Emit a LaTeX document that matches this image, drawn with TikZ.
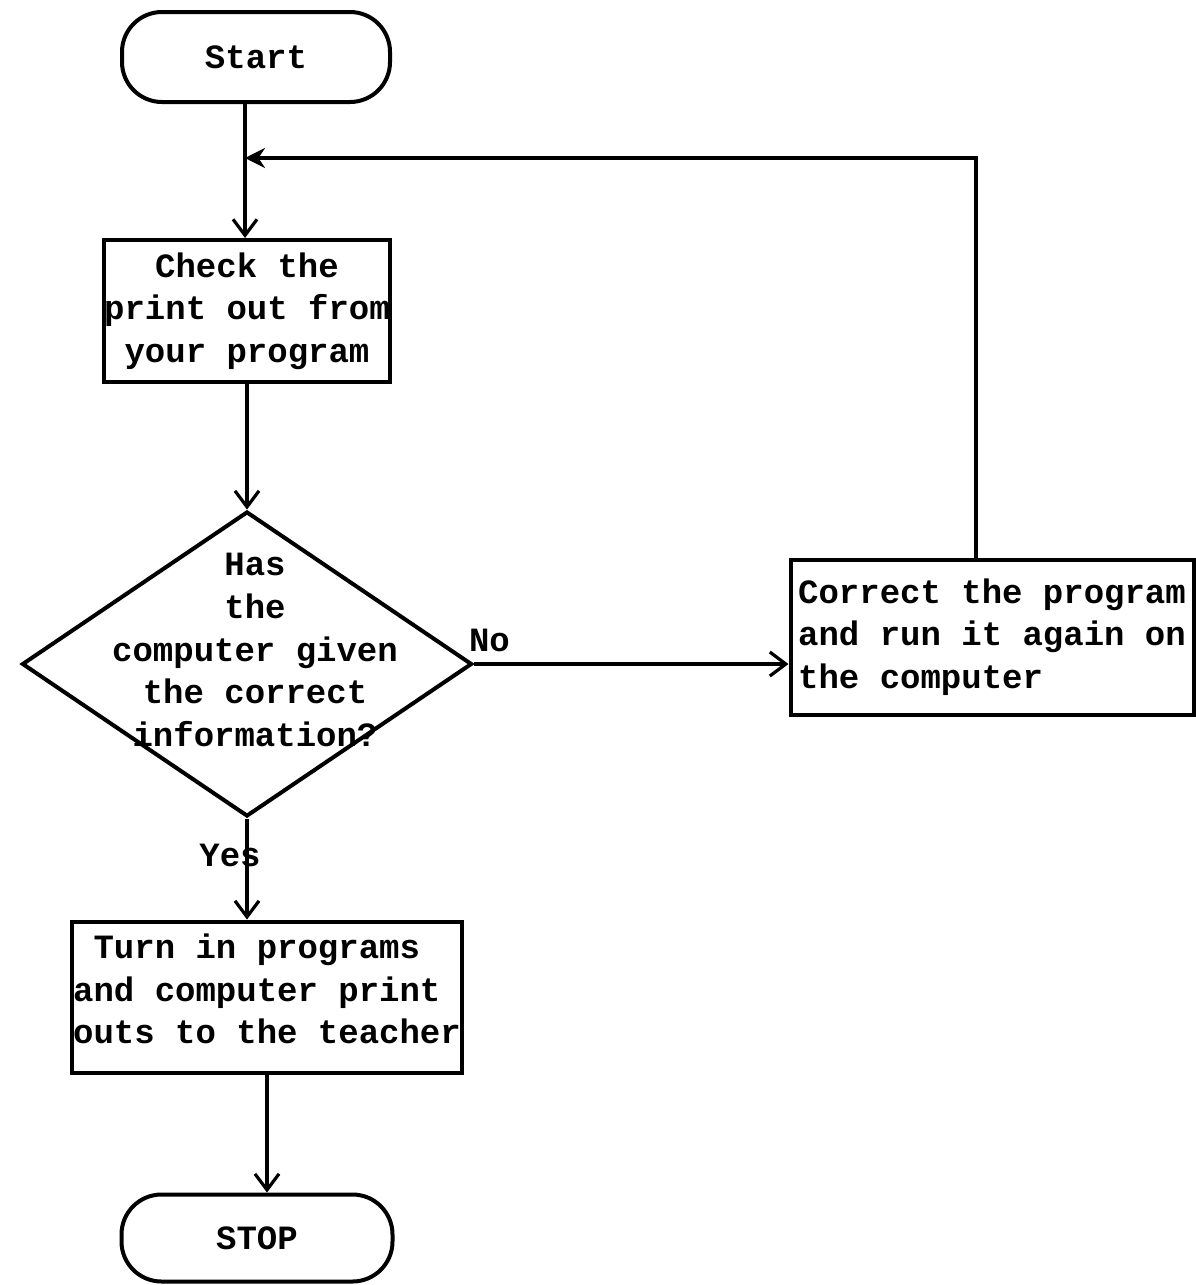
\documentclass[tikz,border=0pt]{standalone}
\usepackage{fontspec}
\setmonofont{Liberation Mono}
\usetikzlibrary{shapes.geometric,arrows.meta}
\begin{document}
\begin{tikzpicture}[x=0.5pt,y=-0.5pt,
  txt/.style={font=\ttfamily\bfseries\fontsize{17}{21.3}\selectfont},
  terminal/.style={draw,line width=2pt,rounded corners=20pt,minimum width=134pt,
    minimum height=45pt,inner sep=0pt,txt},
  process/.style={draw,line width=2pt,inner sep=0pt,txt},
  decision/.style={draw,diamond,line width=2pt,minimum width=225pt,
    minimum height=152.5pt,inner sep=0pt},
  flow/.style={line width=1.6pt,-{Straight Barb[length=8pt,width=12pt,line width=1.6pt]}},
  back/.style={line width=1.6pt,-{Stealth[length=10pt,width=10pt]}},
  tag/.style={txt}
]
\useasboundingbox (0,0) rectangle (1195,1285);

% boxes
\node[terminal] (start) at (256,57) {Start};
\node[process,minimum width=143pt,minimum height=71pt,align=center] (check)
  at (247,311) {Check the\\print out from\\your program};
\node[decision] (q) at (247,664) {};
\node[txt,align=center] (qt) at (255,650)
  {Has\\the\\computer given\\the correct\\information?};
\node[process,minimum width=201.5pt,minimum height=77.5pt,align=left]
  (fix) at (992,637) {Correct the program\\and run it again on\\the computer};
\node[process,minimum width=195pt,minimum height=75.5pt,align=left,text depth=8pt]
  (turn) at (267,997) {\phantom{x}Turn in programs\\and computer print\\outs to the teacher};
\node[terminal,minimum width=135.5pt,minimum height=43.5pt] (stop) at (257,1238) {STOP};

% junction points of the return loop
\coordinate (join) at (245,158);
\coordinate (corner) at (976,158);

% connectors
\draw[flow] (start.south -| join) -- (check.north -| join);
\draw[back] (fix.north -| corner) -- (corner) -- (join);
\draw[flow] (check.south) -- (q.north);
\draw[flow] (q.east) -- (q.east -| fix.west);
\node[tag,anchor=west] (no) at (462,640) {No};
\draw[flow] (q.south) -- (q.south |- turn.north);
\node[tag] (yes) at (230,855) {Yes};
\draw[flow] (turn.south) -- (turn.south |- stop.north);
\end{tikzpicture}
\end{document}
